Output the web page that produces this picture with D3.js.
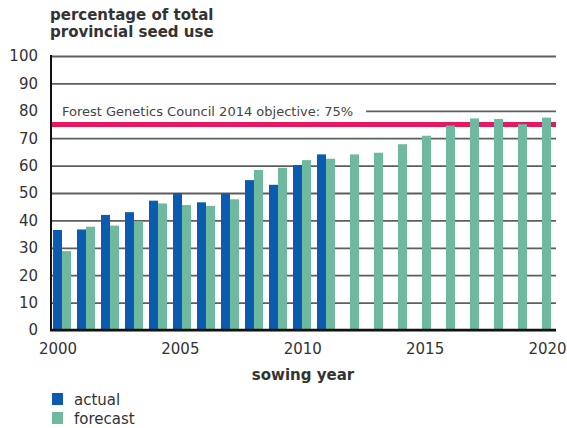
<!DOCTYPE html>
<html>
<head>
<meta charset="utf-8">
<script src="https://cdn.jsdelivr.net/npm/d3@7"></script>
<style>
  body { margin: 0; background: #fff; }
  text { font-family: "DejaVu Sans", Verdana, sans-serif; fill: #333; }
</style>
</head>
<body>
<div id="chart"></div>
<script>
// sowing years shown on the chart
var years = d3.range(2000, 2021);
var yearTicks = [2000, 2005, 2010, 2015, 2020];

// percentage of total provincial seed use
var actualYears = d3.range(2000, 2012);
var actualValues = [36.5, 36.7, 42, 43, 47.2, 50, 46.6, 49.9, 54.7, 53, 60.2, 64.1];
var forecastValues = [28.8, 37.7, 38.1, 39.7, 46.2, 45.6, 45.3, 47.7, 58.4, 59.2, 62,
                      62.5, 64.1, 64.7, 67.8, 70.9, 74.6, 77.2, 77, 75.1, 77.5];

var yTicks = [0, 10, 20, 30, 40, 50, 60, 70, 80, 90, 100];
var objective = 75;
var objectiveLabel = 'Forest Genetics Council 2014 objective: 75%';

var seriesNames = ['actual', 'forecast'];

// Colors
var COLORS = {
  ACTUAL: '#0b5cb0',
  FORECAST: '#70b9a1',
  OBJECTIVE: '#e9175f',
  GRID: '#5e5e5e',
  AXIS: '#111'
};

var WIDTH = 567, HEIGHT = 428;
var PLOT_LEFT = 50, PLOT_RIGHT = 554, PLOT_TOP = 56, PLOT_BOTTOM = 330;

var svg = d3.select('#chart')
  .append('svg')
  .attr('width', WIDTH)
  .attr('height', HEIGHT);

var x = d3.scaleBand()
  .domain(years)
  .range([PLOT_LEFT, PLOT_RIGHT])
  .paddingInner(0.25)
  .paddingOuter(0.125);

var xSeries = d3.scaleBand()
  .domain(seriesNames)
  .range([0, x.bandwidth()]);

// the year labels sit a little wider apart than the bars
var xLabel = d3.scaleLinear()
  .domain([2000, 2020])
  .range([57.5, 547]);

var y = d3.scaleLinear()
  .domain([0, 100])
  .range([PLOT_BOTTOM, PLOT_TOP]);

// Title
svg.append('text')
  .attr('x', 50)
  .attr('y', 20)
  .attr('font-size', '15px')
  .attr('font-weight', 'bold')
  .text('percentage of total');
svg.append('text')
  .attr('x', 50)
  .attr('y', 37)
  .attr('font-size', '15px')
  .attr('font-weight', 'bold')
  .text('provincial seed use');

// Gridlines + y labels
var yAxis = svg.append('g')
  .attr('transform', 'translate(' + PLOT_LEFT + ',0)')
  .call(d3.axisLeft(y)
    .tickValues(yTicks)
    .tickSize(-(PLOT_RIGHT + 2 - PLOT_LEFT))
    .tickPadding(12));
yAxis.select('.domain').remove();
yAxis.selectAll('.tick line')
  .attr('stroke', COLORS.GRID)
  .attr('stroke-width', 1.8);
yAxis.selectAll('.tick text')
  .attr('font-size', '15px')
  .attr('font-family', '"DejaVu Sans", Verdana, sans-serif')
  .style('fill', '#333');

// Objective label sits on a white patch over the 80 gridline
var label = svg.append('g');
var labelBg = label.append('rect').attr('fill', '#fff');
var labelText = label.append('text')
  .attr('x', 62)
  .attr('y', 116)
  .attr('font-size', '13px')
  .style('fill', '#444')
  .text(objectiveLabel);
var bb = labelText.node().getBBox();
labelBg
  .attr('x', PLOT_LEFT + 2)
  .attr('y', y(80) - 3)
  .attr('width', bb.x + bb.width + 13 - PLOT_LEFT - 2)
  .attr('height', 6);

// Objective line
svg.append('line')
  .attr('x1', PLOT_LEFT)
  .attr('x2', PLOT_RIGHT + 2)
  .attr('y1', y(objective))
  .attr('y2', y(objective))
  .attr('stroke', COLORS.OBJECTIVE)
  .attr('stroke-width', 5);

// Bars
svg.append('g').selectAll('rect')
  .data(actualYears.map(function(yr, i) { return {year: yr, value: actualValues[i]}; }))
  .enter().append('rect')
  .attr('x', function(d) { return x(d.year) + xSeries('actual'); })
  .attr('width', xSeries.bandwidth())
  .attr('y', function(d) { return y(d.value); })
  .attr('height', function(d) { return y(0) - y(d.value); })
  .attr('fill', COLORS.ACTUAL);

svg.append('g').selectAll('rect')
  .data(years.map(function(yr, i) { return {year: yr, value: forecastValues[i]}; }))
  .enter().append('rect')
  .attr('x', function(d) { return x(d.year) + xSeries('forecast'); })
  .attr('width', xSeries.bandwidth())
  .attr('y', function(d) { return y(d.value); })
  .attr('height', function(d) { return y(0) - y(d.value); })
  .attr('fill', COLORS.FORECAST);

// Left axis line
svg.append('line')
  .attr('x1', PLOT_LEFT + 1)
  .attr('x2', PLOT_LEFT + 1)
  .attr('y1', PLOT_TOP - 1)
  .attr('y2', PLOT_BOTTOM)
  .attr('stroke', COLORS.AXIS)
  .attr('stroke-width', 2);

// X axis line
svg.append('line')
  .attr('x1', PLOT_LEFT)
  .attr('x2', PLOT_RIGHT + 2)
  .attr('y1', PLOT_BOTTOM)
  .attr('y2', PLOT_BOTTOM)
  .attr('stroke', COLORS.AXIS)
  .attr('stroke-width', 2.5);

// Year labels
var xAxis = svg.append('g')
  .attr('transform', 'translate(0,' + PLOT_BOTTOM + ')')
  .call(d3.axisBottom(xLabel)
    .tickValues(yearTicks)
    .tickFormat(d3.format('d'))
    .tickSize(0)
    .tickPadding(13));
xAxis.select('.domain').remove();
xAxis.selectAll('.tick text')
  .attr('font-size', '15px')
  .attr('font-family', '"DejaVu Sans", Verdana, sans-serif')
  .style('fill', '#333');

// X axis title
svg.append('text')
  .attr('x', 303)
  .attr('y', 380)
  .attr('text-anchor', 'middle')
  .attr('font-size', '15px')
  .attr('font-weight', 'bold')
  .text('sowing year');

// Legend
var legend = svg.append('g')
  .selectAll('g')
  .data(seriesNames)
  .enter().append('g')
  .attr('transform', function(d, i) { return 'translate(52,' + (393 + i * 19) + ')'; });
legend.append('rect')
  .attr('width', 11)
  .attr('height', 12)
  .attr('fill', function(d) { return d === 'actual' ? COLORS.ACTUAL : COLORS.FORECAST; });
legend.append('text')
  .attr('x', 22)
  .attr('y', 12)
  .attr('font-size', '15px')
  .text(function(d) { return d; });
</script>
</body>
</html>
